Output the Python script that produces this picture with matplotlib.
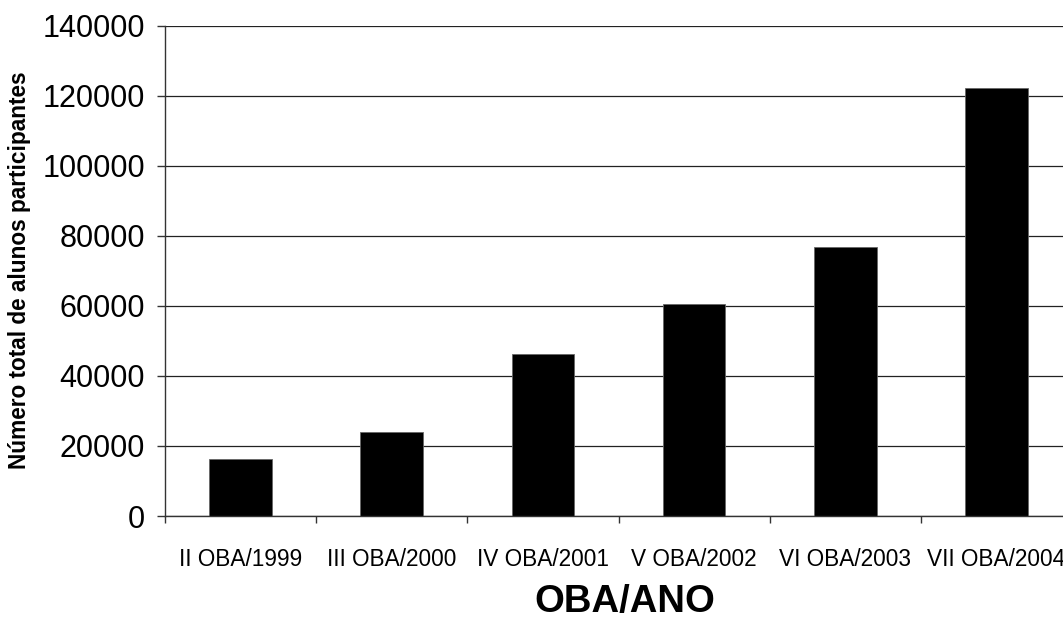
import matplotlib
matplotlib.use("Agg")
import matplotlib.pyplot as plt
import numpy as np

categories = ["II OBA/1999", "III OBA/2000", "IV OBA/2001", "V OBA/2002", "VI OBA/2003", "VII OBA/2004"]
values = [16200, 24000, 46200, 60400, 76700, 122200]
yticks = [0, 20000, 40000, 60000, 80000, 100000, 120000, 140000]
xlabel = "OBA/ANO"
ylabel = "Número total de alunos participantes"

plt.rcParams['font.family'] = ['Liberation Sans', 'DejaVu Sans']

W, H = 1063, 619
fig = plt.figure(figsize=(W / 100, H / 100), dpi=100)
ax = fig.add_axes([165 / W, 1 - 516 / H, 907 / W, 490.5 / H])

x = np.arange(len(categories))
ax.bar(x, values, width=0.415, color='black', edgecolor='#666666', linewidth=0.6, zorder=3)

ax.set_xlim(-0.5, len(categories) - 0.5)
ax.set_ylim(0, 140000)
ax.set_yticks(yticks)
ax.set_yticklabels([str(v) for v in yticks], fontsize=22)
ax.yaxis.grid(True, color='#222222', linewidth=0.9, zorder=0)
ax.set_axisbelow(True)

ax.set_xticks(x)
ax.set_xticklabels(categories, fontsize=16.3)
ax.set_xticks(np.arange(len(categories) + 1) - 0.5, minor=True)
ax.tick_params(axis='x', which='major', length=0, pad=23)
ax.tick_params(axis='x', which='minor', length=5, width=1, color='#333333', direction='out')
ax.tick_params(axis='y', length=5.8, width=1, color='#333333', direction='out', pad=8.6)

for s in ['top', 'right']:
    ax.spines[s].set_visible(False)
for s in ['left', 'bottom']:
    ax.spines[s].set_color('#333333')
    ax.spines[s].set_linewidth(1.0)
ax.spines['left'].set_zorder(4)
ax.spines['bottom'].set_zorder(4)

fig.text(624.5 / W, 1 - 612 / H, xlabel, fontsize=27.5, fontweight='bold',
         ha='center', va='baseline')
fig.text(19.5 / W, 1 - 270 / H, ylabel, fontsize=16.3, fontweight='bold',
         rotation=90, ha='center', va='center')

fig.savefig("out.png", dpi=100)
